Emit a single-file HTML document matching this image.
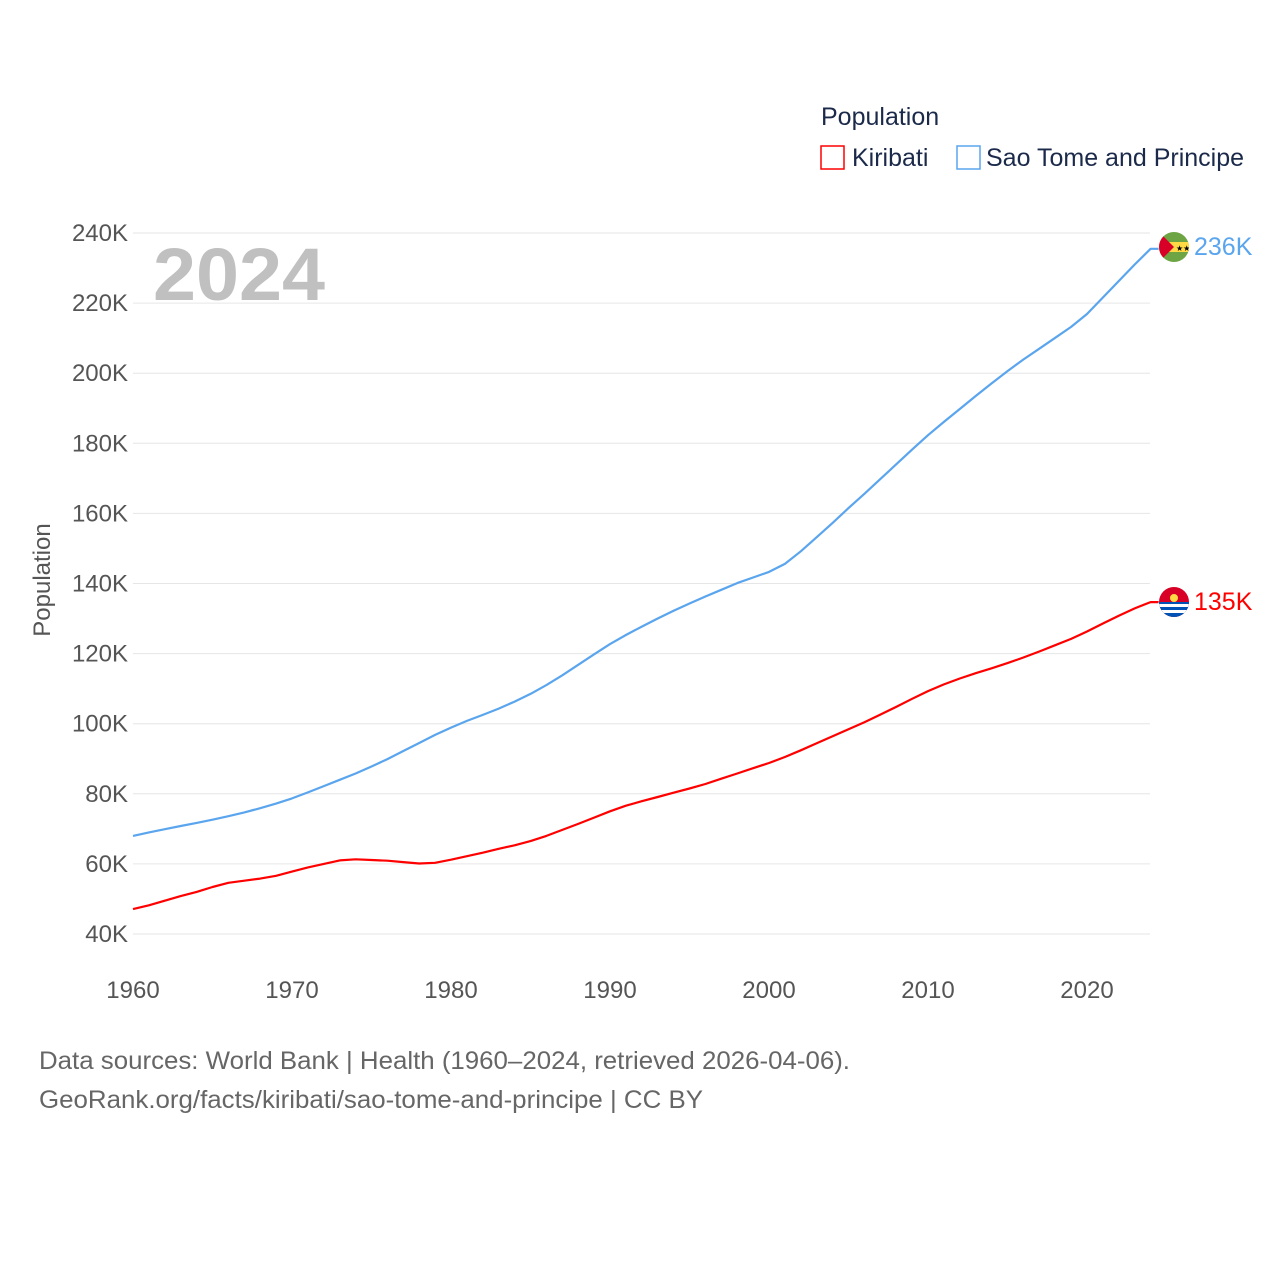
<!DOCTYPE html>
<html><head><meta charset="utf-8"><style>
body{margin:0;background:#fff;width:1280px;height:1280px;overflow:hidden;font-family:"Liberation Sans",sans-serif}
svg text{font-family:"Liberation Sans",sans-serif}
</style></head><body>
<svg id="chart" width="1280" height="1280" viewBox="0 0 1280 1280" xmlns="http://www.w3.org/2000/svg">
<text x="821" y="125" font-size="25" fill="#1b2a4a">Population</text>
<g><rect x="821" y="146" width="23" height="23" fill="none" stroke="#ff0000" stroke-width="1.5"/><text x="852" y="166" font-size="25" fill="#1b2a4a">Kiribati</text></g>
<g><rect x="957" y="146" width="23" height="23" fill="none" stroke="#5aa5ee" stroke-width="1.5"/><text x="986" y="166" font-size="25" fill="#1b2a4a">Sao Tome and Principe</text></g>
<g id="grid"></g>
<text x="153" y="300" font-size="74" font-weight="bold" fill="#c0c0c0" textLength="172" lengthAdjust="spacingAndGlyphs">2024</text>
<text transform="translate(50,580) rotate(-90)" text-anchor="middle" font-size="24" fill="#555">Population</text>
<g id="series"></g>
<g>
<clipPath id="c1"><circle cx="1174" cy="247" r="15"/></clipPath>
<g clip-path="url(#c1)"><rect x="1159" y="232" width="30" height="30" fill="#6da544"/><rect x="1159" y="242" width="30" height="10" fill="#ffda44"/><polygon points="1159,232 1174,247 1159,262" fill="#d80027"/><text x="1176" y="251" font-size="8" fill="#000">★★</text></g></g>
<g>
<clipPath id="c2"><circle cx="1174" cy="602" r="15"/></clipPath>
<g clip-path="url(#c2)"><rect x="1159" y="587" width="30" height="30" fill="#d80027"/><rect x="1159" y="602" width="30" height="15" fill="#0052b4"/><rect x="1159" y="604" width="30" height="3" fill="#fff"/><rect x="1159" y="610" width="30" height="3" fill="#fff"/><circle cx="1174" cy="598" r="4" fill="#ffda44"/></g></g>
<text x="1194" y="255" font-size="25" fill="#5aa5ee">236K</text>
<text x="1194" y="610" font-size="25" fill="#ff0000">135K</text>
<text x="39" y="1069" font-size="25" fill="#666" textLength="811" lengthAdjust="spacingAndGlyphs">Data sources: World Bank | Health (1960–2024, retrieved 2026-04-06).</text>
<text x="39" y="1108" font-size="25" fill="#666" textLength="664" lengthAdjust="spacingAndGlyphs">GeoRank.org/facts/kiribati/sao-tome-and-principe | CC BY</text>
</svg>
<script>
const years=[];for(let y=1960;y<=2024;y++)years.push(y);
const kiribati=[47.1,48.2,49.5,50.8,52.0,53.4,54.6,55.2,55.8,56.6,57.8,59.0,60.0,61.0,61.3,61.1,60.9,60.5,60.1,60.3,61.2,62.2,63.2,64.3,65.3,66.5,68.0,69.7,71.4,73.2,75.0,76.6,77.9,79.1,80.3,81.5,82.8,84.3,85.8,87.3,88.8,90.5,92.4,94.4,96.4,98.4,100.4,102.6,104.8,107.1,109.3,111.2,112.9,114.4,115.8,117.3,118.9,120.6,122.4,124.2,126.3,128.6,130.8,132.9,134.7];
const saoTome=[68.0,69.0,69.9,70.8,71.7,72.6,73.6,74.7,75.9,77.2,78.7,80.4,82.2,84.0,85.8,87.8,89.9,92.2,94.5,96.8,98.9,100.8,102.5,104.3,106.3,108.5,111.0,113.8,116.8,119.8,122.7,125.3,127.7,130.0,132.2,134.3,136.3,138.2,140.1,141.7,143.3,145.6,149.2,153.2,157.3,161.5,165.6,169.8,174.0,178.2,182.3,186.1,189.8,193.5,197.1,200.6,203.9,207.0,210.1,213.2,216.9,221.6,226.3,231.0,235.5];
const yTicks=[40,60,80,100,120,140,160,180,200,220,240];
const xTicks=[1960,1970,1980,1990,2000,2010,2020];
const NS="http://www.w3.org/2000/svg";
const xS=v=>133+(v-1960)*(954/60);
const yS=v=>934-(v-40)*(701/200);
const grid=document.getElementById('grid');
function mk(tag,attrs,parent){const e=document.createElementNS(NS,tag);for(const k in attrs)e.setAttribute(k,attrs[k]);parent.appendChild(e);return e;}
yTicks.forEach(t=>{
 const l=mk('line',{x1:133,x2:1150,y1:yS(t),y2:yS(t),stroke:'#e6e6e6','stroke-width':1},grid);
 
 
 const tx=mk('text',{x:128,y:yS(t)+8,'text-anchor':'end','font-size':24,fill:'#555'},grid);
 tx.textContent=t+'K';
 
 
});
xTicks.forEach(t=>{
 const tx=mk('text',{x:xS(t),y:998,'text-anchor':'middle','font-size':24,fill:'#555'},grid);
 tx.textContent=t;
 
 
});
const ser=document.getElementById('series');
function line(vals,color,name){
 let d=vals.map((v,i)=>(i?'L':'M')+xS(years[i]).toFixed(1)+','+yS(v).toFixed(1)).join(' ');
 d+=' L'+(xS(2024)+8)+','+yS(vals[vals.length-1]).toFixed(1);
 const p=mk('path',{d:d,fill:'none',stroke:color,'stroke-width':2.2,'stroke-linejoin':'round'},ser);
 
 
}
line(saoTome,'#5aa5ee','line-sao-tome');
line(kiribati,'#ff0000','line-kiribati');
</script>
</body></html>
